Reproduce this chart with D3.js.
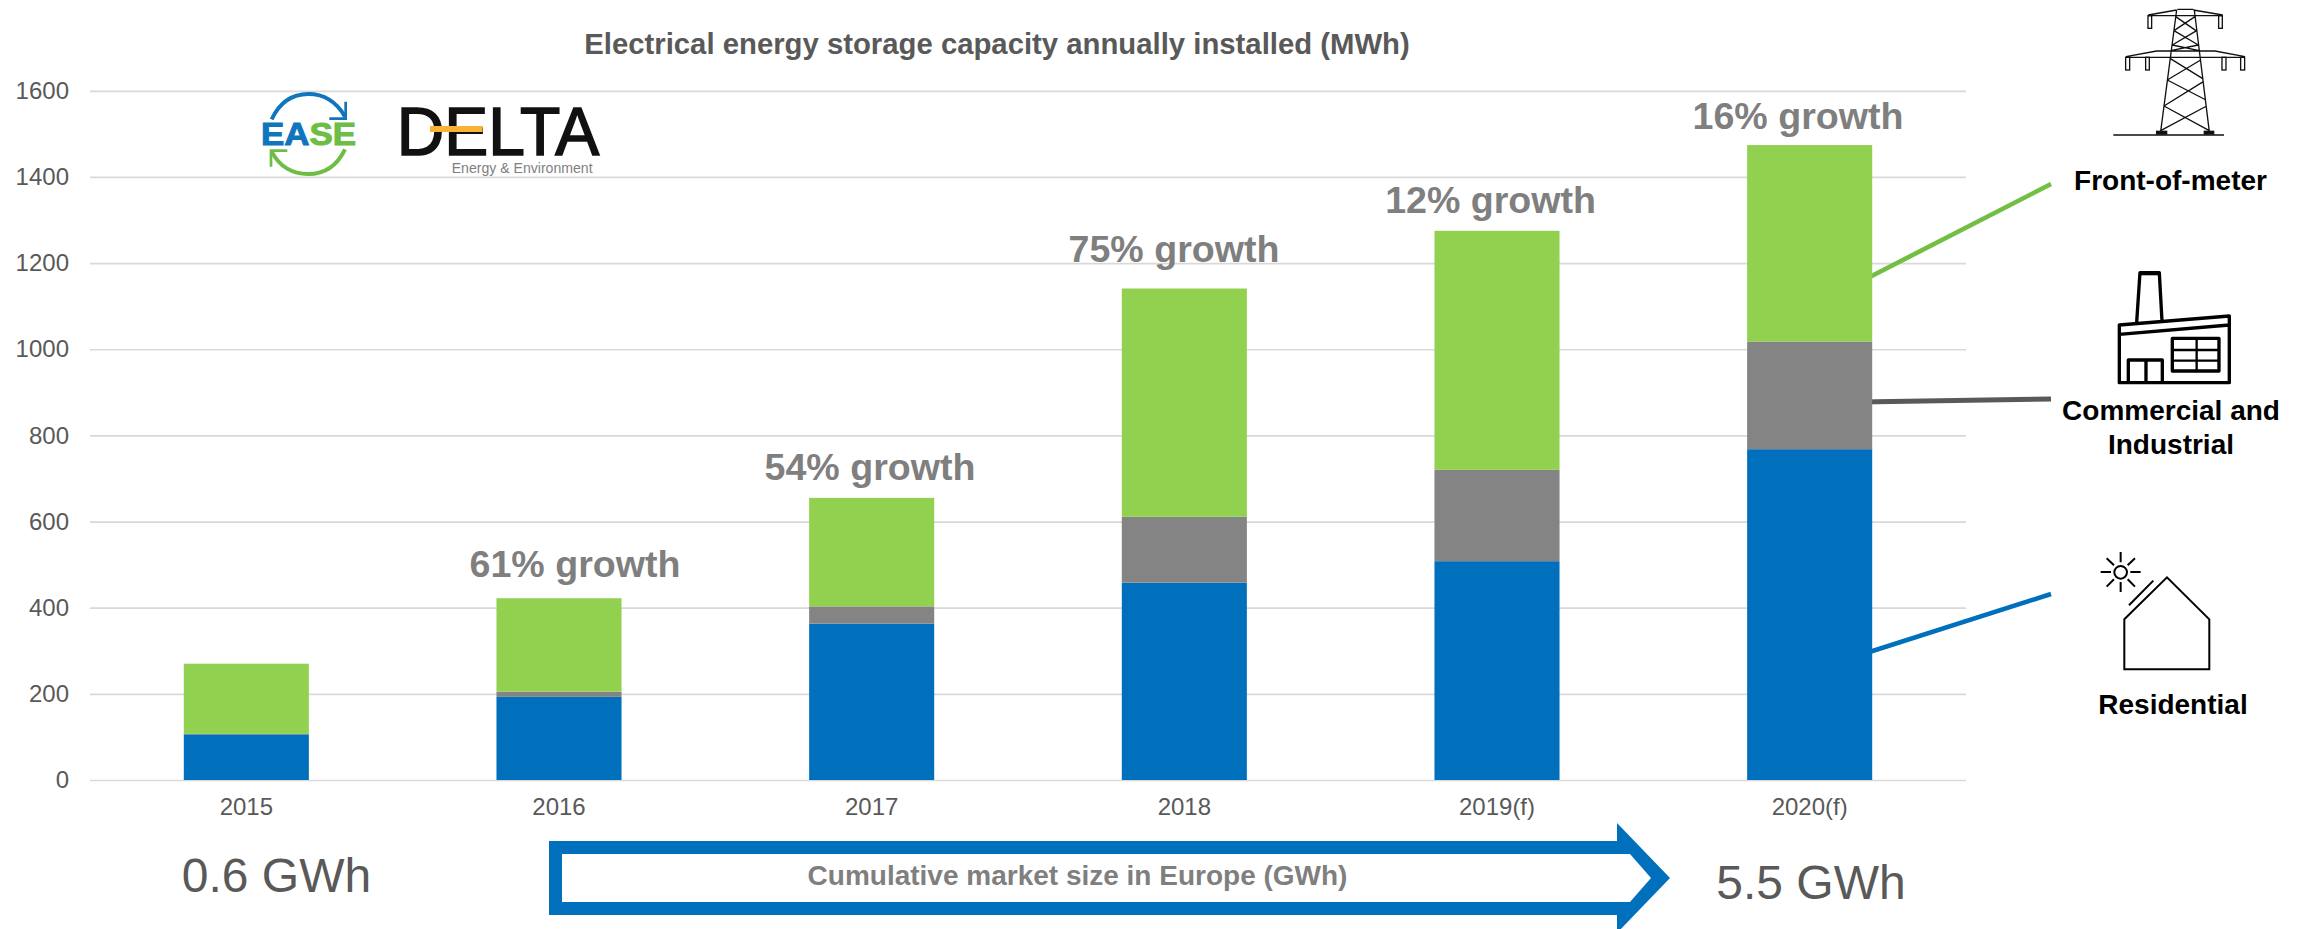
<!DOCTYPE html>
<html>
<head>
<meta charset="utf-8">
<script src="https://cdn.jsdelivr.net/npm/d3@7"></script>
<style>
html,body{margin:0;padding:0;background:#fff;overflow:hidden}
svg{display:block}
text{font-family:"Liberation Sans",Arial,sans-serif}
</style>
</head>
<body>
<svg id="chart" width="2303" height="929"></svg>
<script>
const categories = ["2015","2016","2017","2018","2019(f)","2020(f)"];
const residential = [106,193,363,458,508,768];
const commercial = [1,12,40,153,212,250];
const frontOfMeter = [163,217,252,530,555,456];
const yTicks = [0,200,400,600,800,1000,1200,1400,1600];
const growthLabels = [null,"61% growth","54% growth","75% growth","12% growth","16% growth"];
const seriesNames = ["residential","commercial","frontOfMeter"];
const seriesColors = ["#0070BC","#848484","#92D050"];
const chartTitle = "Electrical energy storage capacity annually installed (MWh)";
const cumulativeTitle = "Cumulative market size in Europe (GWh)";
const cumulativeStart = "0.6 GWh";
const cumulativeEnd = "5.5 GWh";

const svg = d3.select("#chart");
const plot = {left:90,right:1966,top:90.8,bottom:780};
const x = d3.scaleBand().domain(categories).range([plot.left,plot.right]).paddingInner(0.6).paddingOuter(0.3);
const y = d3.scaleLinear().domain([0,1600]).range([plot.bottom,plot.top]);

// axes + gridlines
const yAxis = svg.append("g").attr("transform",`translate(${plot.left},0)`)
  .call(d3.axisLeft(y).tickValues(yTicks).tickFormat(d3.format("d")).tickSize(-(plot.right-plot.left)).tickPadding(21));
yAxis.select(".domain").remove();
yAxis.selectAll("line").attr("stroke","#D9D9D9").attr("stroke-width",1.7);
yAxis.selectAll("text").attr("font-size",24).attr("fill","#595959").attr("font-family","Liberation Sans");

const xAxis = svg.append("g").attr("transform",`translate(0,${plot.bottom})`)
  .call(d3.axisBottom(x).tickSize(0).tickPadding(18));
xAxis.select(".domain").remove();
xAxis.selectAll("text").attr("font-size",24).attr("fill","#595959").attr("font-family","Liberation Sans");

// connector lines (behind bars)
const connectors = [
  {c:"#72BF44",w:4.6,p:[[1860,282],[2051,184]]},
  {c:"#595959",w:5,p:[[1860,402],[2051,399]]},
  {c:"#0070BC",w:4.6,p:[[1860,655],[2051,594]]}
];
svg.append("g").selectAll("line").data(connectors).join("line")
  .attr("x1",d=>d.p[0][0]).attr("y1",d=>d.p[0][1]).attr("x2",d=>d.p[1][0]).attr("y2",d=>d.p[1][1])
  .attr("stroke",d=>d.c).attr("stroke-width",d=>d.w);

// stacked bars
const rows = categories.map((c,i)=>({category:c,residential:residential[i],commercial:commercial[i],frontOfMeter:frontOfMeter[i]}));
const stack = d3.stack().keys(seriesNames)(rows);
svg.append("g").selectAll("g").data(stack).join("g").attr("fill",(d,i)=>seriesColors[i])
  .selectAll("rect").data(d=>d).join("rect")
  .attr("x",d=>x(d.data.category)).attr("width",x.bandwidth())
  .attr("y",d=>y(d[1])).attr("height",d=>y(d[0])-y(d[1]));

// title
svg.append("text").attr("x",997).attr("y",54).attr("text-anchor","middle")
  .attr("font-size",29.3).attr("font-weight","bold").attr("fill","#595959").text(chartTitle);

// growth labels (free-standing text boxes in the source)
const growthPlacement = [null,[575,577],[870,480],[1174,261.7],[1490.6,213.3],[1798,129]];
svg.append("g").selectAll("text").data(growthLabels.filter(Boolean)).join("text")
  .attr("x",d=>growthPlacement[growthLabels.indexOf(d)][0])
  .attr("y",d=>growthPlacement[growthLabels.indexOf(d)][1])
  .attr("text-anchor","middle").attr("font-size",37.6).attr("font-weight","bold").attr("fill","#7F7F7F")
  .text(d=>d);

// cumulative arrow
svg.append("path").attr("fill","#0070BC").attr("fill-rule","evenodd")
  .attr("d","M549,841H1617V823L1670,878L1617,933V915H549Z M562,854V902H1630L1651,878L1630,854Z");
svg.append("text").attr("x",1077.5).attr("y",885).attr("text-anchor","middle")
  .attr("font-size",28).attr("font-weight","bold").attr("fill","#7F7F7F").text(cumulativeTitle);
svg.append("text").attr("x",276.5).attr("y",891.7).attr("text-anchor","middle")
  .attr("font-size",48).attr("fill","#595959").text(cumulativeStart);
svg.append("text").attr("x",1811).attr("y",899).attr("text-anchor","middle")
  .attr("font-size",48).attr("fill","#595959").text(cumulativeEnd);

// right-hand labels
const rightLabels = [["Front-of-meter",2170.5,190],["Commercial and",2171,420],["Industrial",2171,454],["Residential",2173,714]];
svg.append("g").selectAll("text").data(rightLabels).join("text")
  .attr("x",d=>d[1]).attr("y",d=>d[2]).attr("text-anchor","middle")
  .attr("font-size",28).attr("font-weight","bold").attr("fill","#000").text(d=>d[0]);

// tower icon
const tower = svg.append("g").attr("transform","translate(1950,0) scale(0.3333)")
  .attr("fill","none").attr("stroke","#111").attr("stroke-width",4);
tower.append("path").attr("d",
 "M490,405H822 M680,30L632,395 M733,30L778,395 M682,28H730 "+
 "M595,45L680,30 M730,30L818,45 M595,47H818 "+
 "M528,170L620,153H795L885,170 M528,172H885 "+
 "M677,50L738,92 M735,50L672,92 M672,92L745,135 M740,92L667,135 M667,135L748,152 M745,135L662,152 "+
 "M660,175L757,235 M752,180L652,240 M652,240L768,300 M760,245L642,318 M642,318L778,392 M770,318L632,392");
[[594,47,11,38],[806,47,11,38],[527,172,12,38],[587,172,11,38],[816,172,12,38],[872,172,12,38]]
 .forEach(r=>tower.append("rect").attr("x",r[0]).attr("y",r[1]).attr("width",r[2]).attr("height",r[3]));
[[620,394,30,8],[763,394,28,8]].forEach(r=>tower.append("rect").attr("x",r[0]).attr("y",r[1]).attr("width",r[2]).attr("height",r[3]).attr("fill","#111"));

// factory icon
const factory = svg.append("g").attr("transform","translate(1950,0) scale(0.3333)")
  .attr("fill","none").attr("stroke","#000").attr("stroke-width",10).attr("stroke-linejoin","round");
factory.append("path").attr("d",
 "M508,975L838,948V1148H508Z M508,1003L838,975 M560,968L570,818H628L636,962 "+
 "M535,1148V1080H637V1148 M588,1080V1148");
factory.append("rect").attr("x",667).attr("y",1015).attr("width",140).attr("height",98);
factory.append("path").attr("stroke-width",7).attr("d","M667,1050H807 M667,1082H807 M740,1015V1113");
factory.append("path").attr("stroke-width",12).attr("d","M572,820H626");

// house icon
const house = svg.append("g").attr("transform","translate(1950,460) scale(0.3333)")
  .attr("fill","none").attr("stroke","#000").attr("stroke-width",6);
house.append("path").attr("d","M523,478L651,352L778,478V628H523Z M537,436L610,362");
house.append("circle").attr("cx",512).attr("cy",337).attr("r",19);
house.append("path").attr("d","M452,336H483 M541,336H572 M512,276V307 M512,366V396 M470,295L492,316 M555,295L533,316 M470,380L492,358 M555,380L533,358");

// EASE logo
const logo = svg.append("g").attr("transform","translate(230,70) scale(0.3333)");
logo.append("path").attr("fill","none").attr("stroke","#0F75BC").attr("stroke-width",12)
  .attr("d","M125,148C150,95 190,72 235,72C280,72 320,95 345,140");
logo.append("path").attr("fill","none").attr("stroke","#0F75BC").attr("stroke-width",8).attr("d","M347,95V146H298");
logo.append("path").attr("fill","none").attr("stroke","#6DBE45").attr("stroke-width",12)
  .attr("d","M125,245C150,292 190,312 235,312C280,312 320,290 345,238");
logo.append("path").attr("fill","none").attr("stroke","#6DBE45").attr("stroke-width",8).attr("d","M123,290V242H172");
logo.append("text").attr("x",93).attr("y",226).attr("font-size",94).attr("font-weight","bold")
  .attr("textLength",285).attr("lengthAdjust","spacingAndGlyphs")
  .attr("stroke-width",3)
  .html('<tspan fill="#0F75BC" stroke="#0F75BC">EA</tspan><tspan fill="#6DBE45" stroke="#6DBE45">SE</tspan>');
// DELTA logo
logo.append("text").attr("x",500).attr("y",255).attr("font-size",208).attr("font-family","Lato")
  .attr("fill","#111").attr("stroke","#111").attr("stroke-width",5)
  .attr("textLength",608).attr("lengthAdjust","spacingAndGlyphs").text("DELTA");
logo.append("rect").attr("x",600).attr("y",168).attr("width",158).attr("height",18).attr("fill","#F9B233");
logo.append("text").attr("x",665).attr("y",310).attr("font-size",42).attr("font-family","Lato")
  .attr("fill","#7F7F7F").attr("textLength",423).attr("lengthAdjust","spacingAndGlyphs").text("Energy & Environment");
</script>
</body>
</html>
